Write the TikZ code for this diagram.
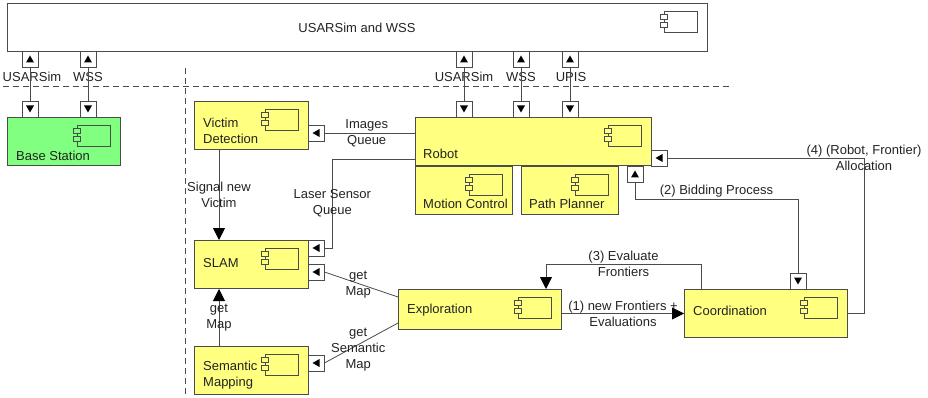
\documentclass[tikz,border=0pt]{standalone}
\usepackage{fontspec}
\setmainfont{Liberation Sans}
\usepackage{xcolor}
\usepackage{tikz}
\usetikzlibrary{arrows.meta}

\definecolor{compyellow}{RGB}{255,255,128}
\definecolor{compgreen}{RGB}{128,255,128}
\definecolor{linegray}{RGB}{75,75,75}
\definecolor{textgray}{RGB}{35,35,35}

\newcommand{\compicon}[2][compyellow]{%
  \draw[linegray,fill=#1] ([shift={(-44,8)}]#2.north east) rectangle ++(33,21);
  \draw[linegray,fill=#1] ([shift={(-47.5,11)}]#2.north east) rectangle ++(7,5);
  \draw[linegray,fill=#1] ([shift={(-47.5,19)}]#2.north east) rectangle ++(7,5);}
\newcommand{\portup}[1]{\fill[black] ([shift={(-4,3.5)}]#1.center) -- ++(8,0) -- ++(-4,-7) -- cycle;}
\newcommand{\portdown}[1]{\fill[black] ([shift={(-4,-3.5)}]#1.center) -- ++(8,0) -- ++(-4,7) -- cycle;}
\newcommand{\portleft}[1]{\fill[black] ([shift={(3.5,-4)}]#1.center) -- ++(0,8) -- ++(-7,-4) -- cycle;}

\begin{document}
\begin{tikzpicture}[x=1pt, y=-1pt,
  every node/.style={font=\fontsize{13}{16}\selectfont},
  comp/.style={draw=linegray, line width=1pt, fill=compyellow, anchor=north west, inner sep=0pt},
  port/.style={draw=linegray, line width=0.8pt, fill=white, minimum size=16pt, inner sep=0pt},
  ctext/.style={anchor=west, align=left, text=textgray, inner sep=0pt},
  lbl/.style={align=center, text=textgray, inner sep=0pt},
  conn/.style={draw=linegray, line width=0.8pt},
  big/.style={-{Triangle[length=12pt,width=12pt,color=black]}},
  sep/.style={draw=linegray, line width=0.8pt, dash pattern=on 6pt off 4pt}]
\useasboundingbox (0,0) rectangle (928,398);

\draw[sep] (3,86) -- (733,86);
\draw[sep] (185,68) -- (185,398);

\node[comp, fill=white, minimum width=700pt, minimum height=48pt] (sim) at (7,3) {};
\node[lbl] (simtxt) at (357,28) {USARSim and WSS};
\compicon[white]{sim}

\node[comp, fill=compgreen, minimum width=113pt, minimum height=48pt] (base) at (7,117) {};
\node[ctext] (basetxt) at (16,156) {Base Station};
\compicon[compgreen]{base}

\node[comp, minimum width=114pt, minimum height=48pt] (vd) at (194,101) {};
\node[ctext] (vdtxt) at (203,130.5) {Victim\\Detection};
\compicon{vd}

\node[comp, minimum width=236pt, minimum height=48pt] (robot) at (415,117) {};
\node[ctext] (robottxt) at (423,154) {Robot};
\compicon{robot}

\node[comp, minimum width=97pt, minimum height=48pt] (motion) at (415,166) {};
\node[ctext] (motiontxt) at (423,204) {Motion Control};
\compicon{motion}

\node[comp, minimum width=97pt, minimum height=48pt] (path) at (521,166) {};
\node[ctext] (pathtxt) at (529,204) {Path Planner};
\compicon{path}

\node[comp, minimum width=114pt, minimum height=48pt] (slam) at (194,240) {};
\node[ctext] (slamtxt) at (203,263) {SLAM};
\compicon{slam}

\node[comp, minimum width=114pt, minimum height=48pt] (sem) at (194,346) {};
\node[ctext] (semtxt) at (203,375.5) {Semantic\\Mapping};
\compicon{sem}

\node[comp, minimum width=163pt, minimum height=40pt] (expl) at (398,289) {};
\node[ctext] (expltxt) at (407,310) {Exploration};
\compicon{expl}

\node[comp, minimum width=163pt, minimum height=48pt] (coord) at (684,289) {};
\node[ctext] (coordtxt) at (693,311) {Coordination};
\compicon{coord}

\node[port] (tp1) at (30,59) {};  \portup{tp1}
\node[port] (tp2) at (88,59) {};  \portup{tp2}
\node[port] (tp3) at (464,59) {}; \portup{tp3}
\node[port] (tp4) at (521,59) {}; \portup{tp4}
\node[port] (tp5) at (570,59) {}; \portup{tp5}
\node[port] (bp1) at (30,109) {};  \portdown{bp1}
\node[port] (bp2) at (88,109) {};  \portdown{bp2}
\node[port] (rp1) at (464,109) {}; \portdown{rp1}
\node[port] (rp2) at (521,109) {}; \portdown{rp2}
\node[port] (rp3) at (570,109) {}; \portdown{rp3}
\node[port] (vdp) at (316,133) {};  \portleft{vdp}
\node[port] (slp1) at (316,248) {}; \portleft{slp1}
\node[port] (slp2) at (316,272) {}; \portleft{slp2}
\node[port] (semp) at (316,363) {}; \portleft{semp}
\node[port] (rrp) at (659,158) {};  \portleft{rrp}
\node[port] (rbp) at (635,174) {};  \portup{rbp}
\node[port] (cp) at (798,281) {};   \portdown{cp}

\node[lbl] (l1) at (32,77) {USARSim};
\node[lbl] (l2) at (88,77) {WSS};
\node[lbl] (l3) at (464,77) {USARSim};
\node[lbl] (l4) at (521,77) {WSS};
\node[lbl] (l5) at (571,77) {UPIS};

\draw[conn] (tp1) -- (bp1);
\draw[conn] (tp2) -- (bp2);
\draw[conn] (tp3) -- (rp1);
\draw[conn] (tp4) -- (rp2);
\draw[conn] (tp5) -- (rp3);

\draw[conn] (vdp.east) -- node[lbl, midway, xshift=-3pt] {Images\\Queue} (vdp -| robot.west);
\draw[conn] ([yshift=7pt]robot.south west) -| node[lbl, pos=0.75] {Laser Sensor\\Queue} ([xshift=8pt]slp1.east) -- (slp1.east);
\draw[conn, big] ([xshift=25pt]vd.south west) -- node[lbl, midway] {Signal new\\Victim} ([xshift=25pt]slam.north west);
\draw[conn, big] ([xshift=25pt]sem.north west) -- node[lbl, midway] {get\\Map} ([xshift=25pt]slam.south west);
\draw[conn] (slp2.east) -- node[lbl, midway, xshift=-3pt] {get\\Map} ([yshift=-8pt]expl.north west);
\draw[conn] (semp.east) -- node[lbl, midway, xshift=-3pt, yshift=-7pt] {get\\Semantic\\Map} ([yshift=7pt]expl.south west);
\draw[conn, big] (expl.east |- coord.west) -- node[lbl, midway] {(1) new Frontiers +\\Evaluations} (coord.west);
\draw[conn, big] ([xshift=17pt]coord.north west) -- ++(0,-25) -| node[lbl, pos=0.25] {(3) Evaluate\\Frontiers} ([xshift=-16pt]expl.north east);
\draw[conn] (cp) -- ++(0,-82) -| node[lbl, pos=0.25, yshift=8pt] {(2) Bidding Process} (rbp);
\draw[conn] (coord.east) -- ++(16,0) |- node[lbl, pos=0.5] {(4) (Robot, Frontier)\\Allocation} (rrp);
\end{tikzpicture}
\end{document}
